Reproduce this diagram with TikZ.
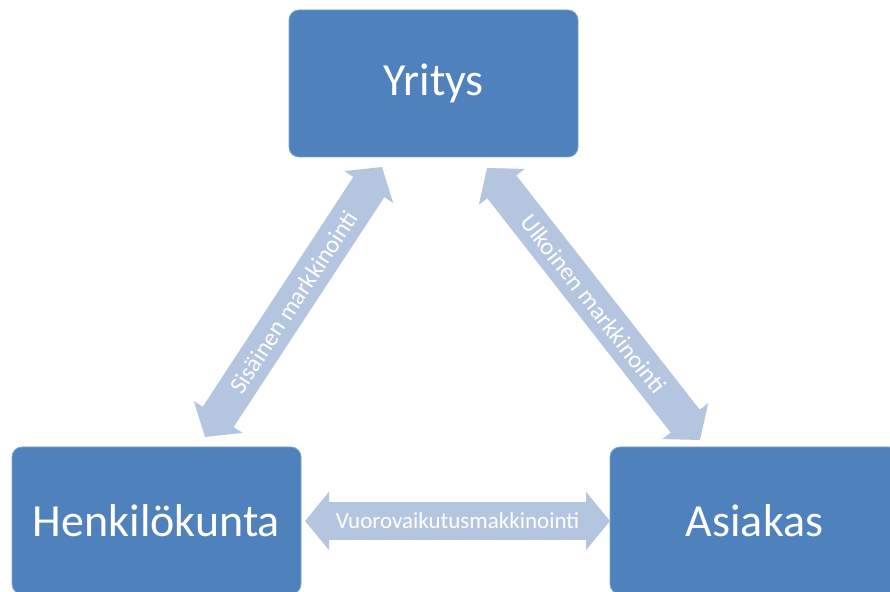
\documentclass[tikz,border=0pt]{standalone}
\usepackage{fontspec}
\setmainfont{Carlito}
\usetikzlibrary{arrows.meta}
\definecolor{boxblue}{HTML}{4F81BD}
\definecolor{boxedge}{HTML}{7FA2CE}
\definecolor{arrowblue}{HTML}{B4C5E0}
\begin{document}
\begin{tikzpicture}[x=1pt,y=1pt,
  box/.style={draw=boxedge, line width=0.8pt, fill=boxblue, rounded corners=10pt,
    minimum width=289pt, minimum height=147pt, inner sep=0pt,
    text=white, font=\fontsize{46}{50}\selectfont},
  bigarrow/.style={draw=arrowblue, line width=37pt, line cap=butt,
    {Triangle[width=57pt,length=24pt]}-{Triangle[width=57pt,length=24pt]}},
  arrowlabel/.style={midway, sloped, text=white, inner sep=0pt,
    font=\fontsize{23}{26}\selectfont},
  diaglabel/.style={arrowlabel, font=\fontsize{24.5}{27}\selectfont}
]
\useasboundingbox (0,0) rectangle (890,591);
\clip (0,0) rectangle (890,591);
\fill[white] (0,0) rectangle (890,591);

\node[box] (Y) at (433.5,507.5) {Yritys};
\node[box] (H) at (156.5,70.5) {Henkilökunta};
\node[box] (A) at (754.5,70.5) {Asiakas};

\coordinate (hl) at (305,70);
\coordinate (hr) at (610,70);
\coordinate (ll) at (205,154);
\coordinate (lu) at (382,424);
\coordinate (ru) at (487,423);
\coordinate (rl) at (700,151);

\draw[bigarrow] (hl) -- node[arrowlabel] {Vuorovaikutusmakkinointi} (hr);
\draw[bigarrow] (ll) -- node[diaglabel] {Sisäinen markkinointi} (lu);
\draw[bigarrow] (ru) -- node[diaglabel] {Ulkoinen markkinointi} (rl);
\end{tikzpicture}
\end{document}
